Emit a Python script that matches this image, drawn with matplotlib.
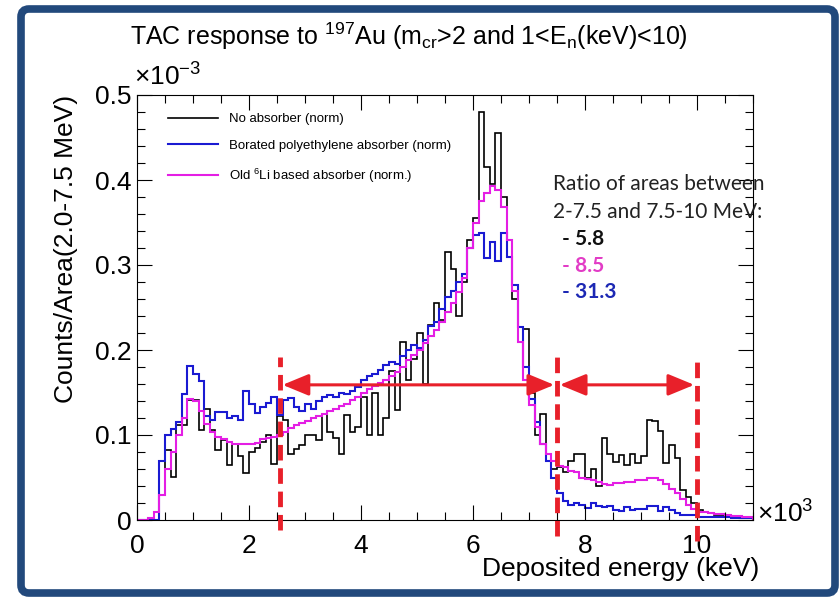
import numpy as np
import matplotlib
matplotlib.use("Agg")
import matplotlib.pyplot as plt
from matplotlib.patches import FancyBboxPatch

# TAC deposited-energy spectra, 100 keV bins from 0 to 11 MeV
# (x in units of 10^3 keV, y in units of 10^-3)
bin_width = 0.1

no_absorber = [
    0, 0, 0, 0, 0.03, 0.082, 0.051, 0.112, 0.112, 0.141,
    0.141, 0.106, 0.131, 0.106, 0.082, 0.094, 0.065, 0.09, 0.075, 0.055,
    0.08, 0.085, 0.092, 0.1, 0.066, 0.122, 0.118, 0.078, 0.084, 0.088,
    0.1, 0.1, 0.094, 0.125, 0.104, 0.096, 0.078, 0.124, 0.104, 0.11,
    0.145, 0.1, 0.15, 0.1, 0.12, 0.175, 0.13, 0.21, 0.165, 0.19,
    0.22, 0.16, 0.23, 0.255, 0.235, 0.315, 0.295, 0.24, 0.28, 0.33,
    0.355, 0.48, 0.415, 0.395, 0.455, 0.38, 0.33, 0.26, 0.21, 0.225,
    0.15, 0.1, 0.125, 0.07, 0.06, 0.062, 0.057, 0.07, 0.078, 0.078,
    0.05, 0.06, 0.04, 0.096, 0.078, 0.068, 0.076, 0.065, 0.078, 0.067,
    0.075, 0.118, 0.116, 0.105, 0.067, 0.088, 0.073, 0.035, 0.027, 0.02,
    0.012, 0.01, 0.008, 0.006, 0.006, 0.005, 0.004, 0.004, 0.003, 0.003,
]

borated_pe = [
    0, 0, 0, 0, 0.07, 0.1, 0.107, 0.115, 0.148, 0.181,
    0.172, 0.164, 0.122, 0.118, 0.127, 0.127, 0.12, 0.122, 0.118, 0.152,
    0.137, 0.126, 0.133, 0.138, 0.145, 0.124, 0.141, 0.144, 0.133, 0.128,
    0.136, 0.131, 0.14, 0.145, 0.147, 0.145, 0.149, 0.148, 0.152, 0.157,
    0.165, 0.17, 0.172, 0.176, 0.182, 0.186, 0.184, 0.193, 0.2, 0.206,
    0.202, 0.212, 0.228, 0.233, 0.248, 0.262, 0.27, 0.28, 0.29, 0.32,
    0.335, 0.338, 0.308, 0.327, 0.305, 0.338, 0.31, 0.276, 0.227, 0.18,
    0.142, 0.115, 0.09, 0.07, 0.05, 0.032, 0.022, 0.018, 0.02, 0.018,
    0.014, 0.02, 0.016, 0.015, 0.017, 0.012, 0.011, 0.015, 0.012, 0.013,
    0.013, 0.017, 0.016, 0.011, 0.015, 0.012, 0.008, 0.006, 0.006, 0.006,
    0.004, 0.004, 0.004, 0.003, 0.003, 0.003, 0.002, 0.002, 0.002, 0.002,
]

li6_absorber = [
    0, 0, 0.002, 0.01, 0.03, 0.06, 0.08, 0.1, 0.12, 0.142,
    0.14, 0.128, 0.113, 0.104, 0.098, 0.095, 0.092, 0.09, 0.089, 0.09,
    0.089, 0.091, 0.095, 0.097, 0.098, 0.1, 0.103, 0.108, 0.112, 0.114,
    0.116, 0.12, 0.122, 0.125, 0.128, 0.131, 0.134, 0.137, 0.141, 0.145,
    0.149, 0.154, 0.158, 0.161, 0.165, 0.17, 0.174, 0.18, 0.188, 0.194,
    0.2, 0.208, 0.216, 0.224, 0.233, 0.245, 0.255, 0.268, 0.285, 0.32,
    0.35, 0.375, 0.385, 0.393, 0.388, 0.368, 0.33, 0.27, 0.21, 0.165,
    0.135, 0.11, 0.09, 0.078, 0.07, 0.064, 0.062, 0.058, 0.056, 0.05,
    0.048, 0.047, 0.045, 0.042, 0.041, 0.043, 0.043, 0.045, 0.045, 0.047,
    0.047, 0.049, 0.05, 0.047, 0.042, 0.037, 0.032, 0.025, 0.018, 0.013,
    0.01, 0.009, 0.008, 0.007, 0.007, 0.006, 0.005, 0.005, 0.004, 0.004,
]

series = [no_absorber, borated_pe, li6_absorber]
series_labels = ["No absorber (norm)",
                 "Borated polyethylene absorber (norm)",
                 "Old $^{6}$Li based absorber (norm.)"]
series_colors = ["#000000", "#1a1ad2", "#e41ee4"]
series_widths = [1.2, 1.5, 1.5]

# integration windows (10^3 keV) and the ratios quoted for them
window_edges = [2.55, 7.5, 10.0]
arrow_level = 0.159
ratio_values = ["5.8", "8.5", "31.3"]
ratio_colors = ["#111111", "#e23cc6", "#1c28b4"]

xticks = [0, 2, 4, 6, 8, 10]
yticks = [0, 0.1, 0.2, 0.3, 0.4, 0.5]

plt.rcParams["font.family"] = ["Liberation Sans", "DejaVu Sans"]
plt.rcParams["mathtext.fontset"] = "custom"
plt.rcParams["mathtext.rm"] = "Liberation Sans"
plt.rcParams["mathtext.it"] = "Liberation Sans"
plt.rcParams["mathtext.default"] = "regular"

W, H = 840, 597
fig = plt.figure(figsize=(W / 100, H / 100), dpi=100)


def fx(px):
    return px / W


def fy(py):
    return 1 - py / H


ax = fig.add_axes([fx(137), fy(520), fx(753) - fx(137), fy(95) - fy(520)])

edges = np.arange(len(no_absorber) + 1) * bin_width
for vals, lab, col, lw in zip(series, series_labels, series_colors, series_widths):
    ax.stairs(vals, edges, color=col, lw=lw, label=lab)

ax.set_xlim(0, 11)
ax.set_ylim(0, 0.5)
ax.set_xticks(xticks)
ax.set_xticklabels([str(t) for t in xticks])
ax.set_yticks(yticks)
ax.set_yticklabels(["0"] + [f"{t:.1f}" for t in yticks[1:]])
ax.set_xticks(np.arange(0, 11.01, 0.5), minor=True)
ax.set_yticks(np.arange(0, 0.501, 0.02), minor=True)
ax.tick_params(which="both", direction="in", top=True, right=True,
               labelsize=19, width=0.8)
ax.tick_params(which="major", length=11)
ax.tick_params(which="minor", length=5.5)
ax.tick_params(axis="y", pad=4)
ax.tick_params(axis="x", pad=10)
for s in ax.spines.values():
    s.set_linewidth(0.8)

ax.set_xlabel("Deposited energy (keV)", fontsize=19, loc="right")
ax.xaxis.set_label_coords(1.01, -0.088)
ax.set_ylabel("Counts/Area(2.0-7.5 MeV)", fontsize=19, loc="top", labelpad=12)

ax.text(-0.005, 1.01, r"$\times$10$^{-3}$", transform=ax.transAxes,
        fontsize=19, ha="left", va="bottom")
ax.text(1.006, -0.018, r"$\times$10$^{3}$", transform=ax.transAxes,
        fontsize=19, ha="left", va="bottom")

fig.text(fx(409), fy(36), "TAC response to $^{197}$Au (m$_{cr}$>2 and 1<E$_{n}$(keV)<10)",
         fontsize=18, ha="center", va="center")

ax.legend(loc="upper left", bbox_to_anchor=(fx(168), fy(113)),
          bbox_transform=fig.transFigure, frameon=False, fontsize=9.5,
          handlelength=3.8, handletextpad=0.8, labelspacing=1.1,
          borderpad=0, borderaxespad=0)

# window markers and double arrows
red = "#e8202a"
dash_tops = [0.192, 0.194, 0.188]
dash_bottoms = [-0.012, -0.019, -0.025]
for x, top, bot in zip(window_edges, dash_tops, dash_bottoms):
    ax.plot([x, x], [bot, top], color=red, lw=3.5, ls=(0, (3.2, 1.6)),
            clip_on=False, zorder=5)
for x0, x1 in zip(window_edges[:-1], window_edges[1:]):
    ax.annotate("", xy=(x1, arrow_level), xytext=(x0, arrow_level),
                arrowprops=dict(arrowstyle="<|-|>,head_length=0.8,head_width=0.33",
                                mutation_scale=20, color=red, lw=2.2,
                                shrinkA=2, shrinkB=2),
                zorder=6)

fig.text(fx(553), fy(184), "Ratio of areas between", fontsize=15,
         family="Lato", color="#222222", ha="left", va="center")
fig.text(fx(553), fy(212), "2-7.5 and 7.5-10 MeV:", fontsize=15,
         family="Lato", color="#222222", ha="left", va="center")
for i, (r, c) in enumerate(zip(ratio_values, ratio_colors)):
    fig.text(fx(562), fy(239 + 26.5 * i), "- " + r, fontsize=15, family="Lato",
             weight="bold", color=c, ha="left", va="center")

# slide frame
frame = FancyBboxPatch((0.21, 0.04), 8.14, 5.84,
                       boxstyle="round,pad=0,rounding_size=0.08",
                       transform=fig.dpi_scale_trans, fill=False,
                       ec="#22497c", lw=5.5)
fig.patches.append(frame)

fig.savefig("out.png", dpi=100)
